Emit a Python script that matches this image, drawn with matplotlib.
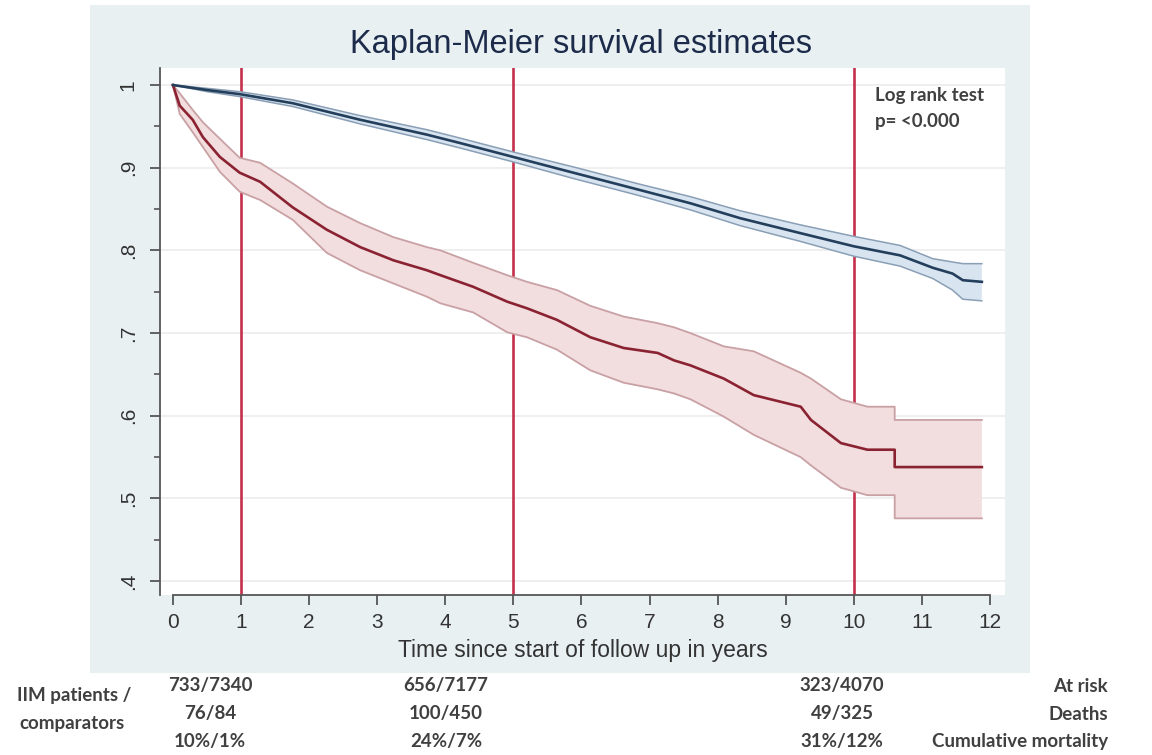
####################################################################################################
# Kaplan-Meier survival estimates: IIM patients vs comparators
####################################################################################################

import matplotlib
matplotlib.use("Agg")
import matplotlib.pyplot as plt
from matplotlib.patches import Rectangle

# IIM patients (red) - survival estimate and 95% CI
iimTime = [0, 0.1, 0.29, 0.44, 0.69, 0.98, 1.28, 1.76, 2.26, 2.75, 3.24, 3.73, 3.93, 4.41, 4.91,
           5.2, 5.64, 6.13, 6.62, 7.12, 7.36, 7.6, 8.09, 8.53, 9.22, 9.37, 9.81, 10.2, 10.6, 10.6,
           11.88]
iimSurv = [1.0, 0.975, 0.958, 0.937, 0.913, 0.894, 0.883, 0.852, 0.825, 0.804, 0.788, 0.776, 0.770,
           0.756, 0.738, 0.730, 0.716, 0.695, 0.682, 0.676, 0.667, 0.661, 0.645, 0.625, 0.611,
           0.595, 0.567, 0.559, 0.559, 0.538, 0.538]
iimUpper = [1.0, 0.990, 0.970, 0.955, 0.935, 0.912, 0.906, 0.881, 0.853, 0.833, 0.816, 0.804, 0.800,
            0.785, 0.770, 0.762, 0.752, 0.733, 0.720, 0.712, 0.707, 0.700, 0.684, 0.678, 0.652,
            0.645, 0.620, 0.611, 0.611, 0.595, 0.595]
iimLower = [1.0, 0.965, 0.943, 0.925, 0.895, 0.871, 0.861, 0.837, 0.797, 0.776, 0.760, 0.744, 0.736,
            0.725, 0.701, 0.695, 0.680, 0.655, 0.640, 0.632, 0.627, 0.620, 0.599, 0.577, 0.550,
            0.540, 0.513, 0.504, 0.504, 0.476, 0.476]

# Comparators (blue)
compTime = [0, 0.5, 0.98, 1.76, 2.75, 3.73, 4.21, 5.0, 5.88, 6.86, 7.6, 8.33, 9.21, 10.0, 10.68,
            11.16, 11.45, 11.6, 11.88]
compSurv = [1.0, 0.994, 0.989, 0.978, 0.958, 0.940, 0.930, 0.913, 0.894, 0.873, 0.857, 0.839,
            0.821, 0.805, 0.794, 0.779, 0.772, 0.764, 0.762]
compUpper = [1.0, 0.996, 0.992, 0.982, 0.963, 0.946, 0.936, 0.919, 0.901, 0.880, 0.865, 0.848,
             0.831, 0.817, 0.806, 0.790, 0.786, 0.784, 0.784]
compLower = [1.0, 0.992, 0.986, 0.974, 0.953, 0.934, 0.924, 0.907, 0.887, 0.866, 0.849, 0.830,
             0.811, 0.793, 0.781, 0.766, 0.752, 0.741, 0.739]

# Reference years and table under the chart
markYears = [1, 5, 10]
atRisk = ["733/7340", "656/7177", "323/4070"]
deaths = ["76/84", "100/450", "49/325"]
cumMortality = ["10%/1%", "24%/7%", "31%/12%"]
rowNames = ["At risk", "Deaths", "Cumulative mortality"]

yTicks = [0.4, 0.5, 0.6, 0.7, 0.8, 0.9, 1.0]
yTickLabels = [".4", ".5", ".6", ".7", ".8", ".9", "1"]
xTicks = list(range(0, 13))

# Colors
panelColor = "#e9f0f2"
redLine = "#8a2232"
redFill = "#f2dede"
redEdge = "#c9a0a4"
blueLine = "#243f5c"
blueFill = "#d8e5f1"
blueEdge = "#8a9fb5"
markColor = "#c4304c"
textDark = "#333333"

W, H = 1152, 755
fig = plt.figure(figsize=(W / 100, H / 100), dpi=100)
fig.patch.set_facecolor("white")

# Grey Stata-like graph region (behind the axes)
fig.patches.append(Rectangle((90 / W, 1 - 673 / H), 940 / W, 668 / H, transform=fig.transFigure,
                             facecolor=panelColor, edgecolor="none", zorder=-10))

ax = fig.add_axes([160 / W, 1 - 595 / H, 845 / W, 527 / H])
ax.set_zorder(1)
ax.set_facecolor("white")
ax.set_xlim(-0.19, 12.22)
ax.set_ylim(0.3833, 1.0206)

# Grid
for v in yTicks:
    ax.axhline(v, color="#ececec", lw=1.2, zorder=1)

# Reference lines (behind the CI bands)
for yr in markYears:
    ax.axvline(yr, color=markColor, lw=1.9, zorder=2)

# CI bands
ax.fill_between(iimTime, iimLower, iimUpper, facecolor=redFill, edgecolor="none", zorder=3)
ax.plot(iimTime, iimUpper, color=redEdge, lw=1.3, zorder=4)
ax.plot(iimTime, iimLower, color=redEdge, lw=1.3, zorder=4)
ax.fill_between(compTime, compLower, compUpper, facecolor=blueFill, edgecolor="none", zorder=3)
ax.plot(compTime, compUpper, color=blueEdge, lw=1.1, zorder=4)
ax.plot(compTime, compLower, color=blueEdge, lw=1.1, zorder=4)

# Survival curves
ax.plot(iimTime, iimSurv, color=redLine, lw=1.9, zorder=5)
ax.plot(compTime, compSurv, color=blueLine, lw=1.9, zorder=5)

# Axes styling
for side in ["top", "right"]:
    ax.spines[side].set_visible(False)
ax.spines["left"].set_color("#555555")
ax.spines["bottom"].set_color("#555555")
ax.spines["left"].set_linewidth(1.3)
ax.spines["bottom"].set_linewidth(1.3)
ax.spines["bottom"].set_bounds(0, 12)

ax.set_yticks(yTicks)
ax.set_yticklabels(yTickLabels, rotation=90, va="center", fontsize=15, family="Liberation Sans",
                   color=textDark)
ax.set_yticks([0.45, 0.55, 0.65, 0.75, 0.85, 0.95], minor=True)
ax.tick_params(axis="y", which="major", length=7, width=1.3, color="#555555", pad=9)
ax.tick_params(axis="y", which="minor", length=4, width=1.2, color="#555555")

ax.set_xticks(xTicks)
ax.set_xticklabels([str(t) for t in xTicks], fontsize=15, family="Liberation Sans", color=textDark)
ax.tick_params(axis="x", length=7, width=1.3, color="#555555", pad=6)

ax.set_xlabel("Time since start of follow up in years", fontsize=16.5, family="Liberation Sans",
              color=textDark, labelpad=5)

fig.text(581 / W, 1 - 45 / H, "Kaplan-Meier survival estimates", ha="center", va="center",
         fontsize=23.5, family="Liberation Sans", color="#1c2b4a")

# Log rank annotation
fig.text(875 / W, 1 - 95 / H, "Log rank test", ha="left", va="center", fontsize=13.5,
         family="Lato", fontweight="bold", color="#404040")
fig.text(875 / W, 1 - 121 / H, "p= <0.000", ha="left", va="center", fontsize=13.5,
         family="Lato", fontweight="bold", color="#404040")

# Table under the chart
tableFont = dict(fontsize=13.5, family="Lato", fontweight="bold", color="#404040")
colX = [210, 446, 842]
rowY = [686, 714, 741]
for i, cx in enumerate(colX):
    for rowVals, ry in zip([atRisk, deaths, cumMortality], rowY):
        fig.text(cx / W, 1 - ry / H, rowVals[i], ha="center", va="center", **tableFont)
for name, ry in zip(rowNames, rowY):
    fig.text(1108 / W, 1 - ry / H, name, ha="right", va="center", **tableFont)
fig.text(74 / W, 1 - 695 / H, "IIM patients /", ha="center", va="center", **tableFont)
fig.text(72 / W, 1 - 723 / H, "comparators", ha="center", va="center", **tableFont)

fig.savefig("out.png", dpi=100)
